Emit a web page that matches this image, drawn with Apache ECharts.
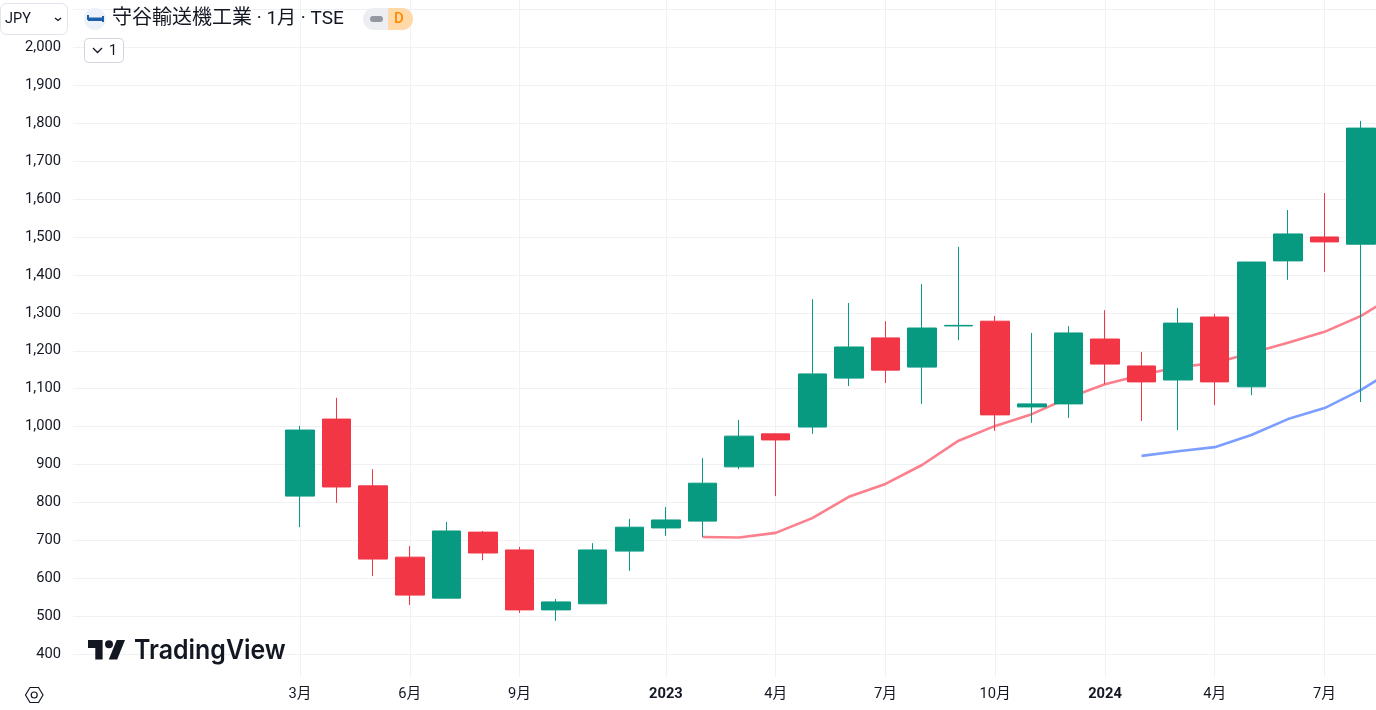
<!DOCTYPE html>
<html lang="ja">
<head>
<meta charset="utf-8">
<title>守谷輸送機工業</title>
<style>html,body{margin:0;padding:0;background:#fff}#c{width:1376px;height:710px}</style>
<script src="https://cdn.jsdelivr.net/npm/echarts@6/dist/echarts.min.js"></script>
</head>
<body>
<div id="c"></div>
<script>
const months = ['2022-03','2022-04','2022-05','2022-06','2022-07','2022-08','2022-09','2022-10','2022-11','2022-12',
  '2023-01','2023-02','2023-03','2023-04','2023-05','2023-06','2023-07','2023-08','2023-09','2023-10','2023-11','2023-12',
  '2024-01','2024-02','2024-03','2024-04','2024-05','2024-06','2024-07','2024-08'];
const opens  = [817,1020,844,656,548,722,675,517,533,672,733,751,894,981,999,1128,1234,1157,1265.5,1278,1052,1060,1231,1160,1123,1289,1105,1437,1500,1481];
const closes = [991,841,651,556,725,667,517,538,675,735,754,851,975,965,1139,1210,1149,1260,1267,1031,1060,1247,1165,1118,1273,1118,1434,1508,1487,1787];
const lows   = [735,799,606,530,548,648,509,488,533,620,712,709,888,817,981,1107,1115,1060,1228,989,1010,1023,1112,1015,991,1057,1083,1387,1408,1065];
const highs  = [1002,1076,888,685,749,725,683,546,693,757,788,917,1018,981,1336,1326,1278,1376,1474,1292,1247,1265,1307,1197,1313,1297,1434,1571,1616,1806];
// moving averages, starting at their first month index; last point runs off the canvas edge
const maRedStart = 11;
const maRed = [709,708,720,759,815,849,899,963,1002,1033,1076,1112,1136,1157,1168,1194,1221,1250,1292,1351];
const maBlueStart = 23;
const maBlue = [923,935,946,978,1020,1049,1097,1157];
const yTicks = [400,500,600,700,800,900,1000,1100,1200,1300,1400,1500,1600,1700,1800,1900,2000];
const yGridExtra = [2100];
const xTickIdx = [0,3,6,10,13,16,19,22,25,28];
const xTickLabels = ['3月','6月','9月','2023','4月','7月','10月','2024','4月','7月'];
const titleName = '守谷輸送機工業';
const titleRest = ' · 1月 · TSE';

const FONT = 'Roboto, "Noto Sans CJK JP", sans-serif';
const INK = '#131722';
const chart = echarts.init(document.getElementById('c'), null, {renderer:'canvas'});
const pairs = (start, arr) => arr.map((v,i)=>[start+i, v]);

chart.setOption({
  animation:false,
  backgroundColor:'#ffffff',
  grid:{left:73, right:0, top:0, bottom:33, containLabel:false},
  xAxis:{
    type:'value', min:-6.204, max:29.407,
    axisLine:{show:false},
    axisTick:{show:false, customValues:xTickIdx},
    splitLine:{show:true, lineStyle:{color:'#f0f1f4', width:1}},
    axisLabel:{
      customValues:xTickIdx, margin:10, fontFamily:FONT, fontSize:14.7, color:INK,
      showMinLabel:true, showMaxLabel:true, hideOverlap:false,
      formatter:v=>{const s=xTickLabels[xTickIdx.indexOf(v)]; return /^\d{4}$/.test(s)?'{b|'+s+'}':s;},
      rich:{b:{fontFamily:FONT,fontSize:14.7,fontWeight:'bold',color:INK}}
    }
  },
  yAxis:{
    type:'value', min:340.1, max:2124.7,
    axisLine:{show:false},
    axisTick:{show:false, customValues:yTicks.concat(yGridExtra)},
    splitLine:{show:true, lineStyle:{color:'#f0f1f4', width:1}},
    axisLabel:{
      customValues:yTicks, margin:12, fontFamily:FONT, fontSize:14.7, color:INK,
      formatter:v=>v.toLocaleString('en-US')
    }
  },
  series:[
    {type:'line', z:1, showSymbol:false, symbol:'none', clip:true, data:pairs(maRedStart,maRed), lineStyle:{color:'#fb7f8c',width:2.6}},
    {type:'line', z:1, showSymbol:false, symbol:'none', clip:true, data:pairs(maBlueStart,maBlue), lineStyle:{color:'#7c9fff',width:2.6}},
    {type:'candlestick', z:3, barWidth:29, clip:false,
      encode:{x:0,y:[1,2,3,4]},
      data:months.map((m,i)=>[i,opens[i],closes[i],lows[i],highs[i]]),
      itemStyle:{color:'#089981',color0:'#F23645',borderColor:'#089981',borderColor0:'#F23645',borderWidth:1,borderJoin:'miter'}}
  ],
  graphic:[
    // currency box
    {type:'rect',z:10,shape:{x:0.5,y:3.5,width:67,height:31,r:6},style:{fill:'#fff',stroke:'#e0e3eb',lineWidth:1}},
    {type:'text',z:11,x:5,y:19,style:{text:'JPY',fill:INK,font:'14.5px '+FONT,textVerticalAlign:'middle'}},
    {type:'polyline',z:11,shape:{points:[[55,18],[58,20.5],[61,18]]},style:{stroke:INK,lineWidth:1.3,fill:null}},
    // symbol logo
    {type:'circle',z:10,shape:{cx:95,cy:19,r:11},style:{fill:'#edf1fa'}},
    {type:'rect',z:11,shape:{x:88,y:17.5,width:15,height:3.5},style:{fill:'#1d5fa8'}},
    {type:'rect',z:11,shape:{x:87,y:15,width:2,height:5},style:{fill:'#1d5fa8'}},
    {type:'rect',z:11,shape:{x:102,y:16,width:2,height:6},style:{fill:'#1d5fa8'}},
    // title
    {type:'text',z:11,x:112,y:19,style:{text:titleName,fill:INK,font:'20px '+FONT,textVerticalAlign:'middle'}},
    {type:'text',z:11,x:252,y:19,style:{text:titleRest,fill:INK,font:'19px '+FONT,textVerticalAlign:'middle'}},
    // status pill
    {type:'rect',z:10,shape:{x:363,y:8,width:50,height:22,r:11},style:{fill:'#eceef2'}},
    {type:'rect',z:11,shape:{x:388,y:8,width:25,height:22,r:[0,11,11,0]},style:{fill:'#ffd9a8'}},
    {type:'rect',z:11,shape:{x:370,y:16,width:13,height:6,r:3},style:{fill:'#9598a1'}},
    {type:'text',z:12,x:394,y:19.5,style:{text:'D',fill:'#ff8a00',font:'500 15px '+FONT,textVerticalAlign:'middle'}},
    // collapse button
    {type:'rect',z:10,shape:{x:84.5,y:38.5,width:39,height:24,r:4},style:{fill:'#fff',stroke:'#d1d4dc',lineWidth:1}},
    {type:'polyline',z:11,shape:{points:[[93,48],[97.5,52.5],[102,48]]},style:{stroke:INK,lineWidth:1.3,fill:null}},
    {type:'text',z:11,x:109,y:51,style:{text:'1',fill:INK,font:'14.5px '+FONT,textVerticalAlign:'middle'}},
    // TradingView logo
    {type:'polygon',z:5,shape:{points:[[102.6,659.5],[95.3,659.5],[95.3,647.9],[88,647.9],[88,640],[102.6,640]]},style:{fill:INK}},
    {type:'polygon',z:5,shape:{points:[[117.2,659.5],[108.8,659.5],[116.7,640],[125,640]]},style:{fill:INK}},
    {type:'circle',z:5,shape:{cx:109,cy:644.3,r:4},style:{fill:INK}},
    {type:'text',z:5,x:134,y:651,scaleX:0.94,style:{text:'TradingView',fill:INK,font:'600 26.5px Inter, sans-serif',textVerticalAlign:'middle'}},
    // settings icon
    {type:'polygon',z:10,shape:{points:[[25.5,695],[30,687.5],[38.5,687.5],[43,695],[38.5,702.5],[30,702.5]]},style:{fill:'#fff',stroke:INK,lineWidth:1.2}},
    {type:'circle',z:11,shape:{cx:34.2,cy:695,r:3},style:{fill:'#fff',stroke:INK,lineWidth:1.2}}
  ]
});
</script>
</body>
</html>
